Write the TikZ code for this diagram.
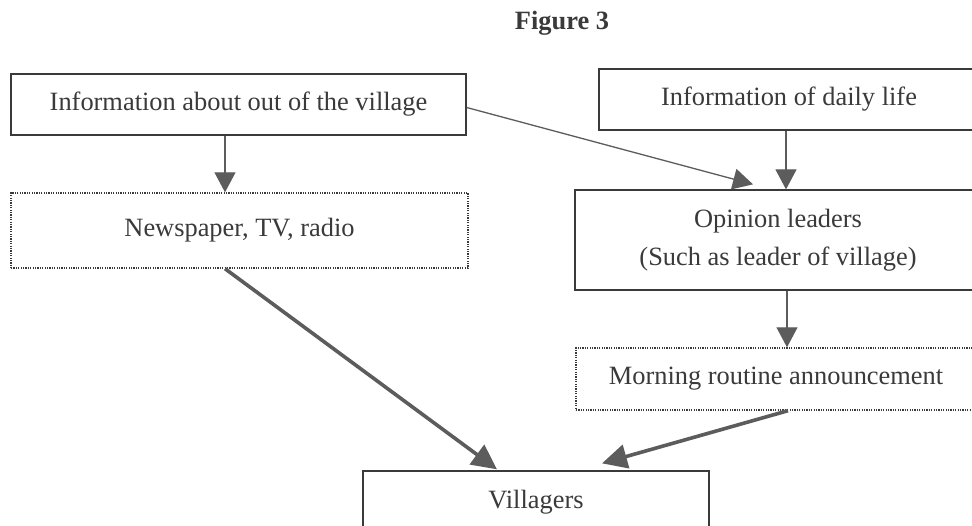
\documentclass[tikz,border=0pt]{standalone}
\usepackage{fontspec}
\setmainfont{Liberation Serif}
\usetikzlibrary{arrows.meta}
\definecolor{ink}{HTML}{3A3A3A}
\definecolor{arrowgrey}{HTML}{5C5C5C}
\begin{document}
\begin{tikzpicture}[x=1pt,y=-1pt,
  every node/.style={text=ink,font=\fontsize{26.4}{38}\selectfont},
  solidbox/.style={draw=ink,line width=1.3pt,inner sep=0pt,align=center},
  dotbox/.style={draw=ink,line width=1.4pt,dash pattern=on 1.2pt off 1.2pt,inner sep=0pt,align=center},
  thinarrow/.style={draw=ink,line width=1.3pt,-{Triangle[length=20pt,width=21pt]},arrowgrey},
  thickarrow/.style={draw=arrowgrey,line width=3.6pt,-{Triangle[length=25pt,width=24pt]}}]
\useasboundingbox (0,0) rectangle (972,526);
\clip (0,0) rectangle (972,526);
\fill[white] (0,0) rectangle (972,526);

% title
\node[font=\fontsize{26.4}{30}\selectfont\bfseries] (title) at (562,23) {Figure 3};

% boxes
\node[solidbox,minimum width=455pt,minimum height=61pt] (outside) at (238.5,104.5) {Information about out of the village};
\node[solidbox,minimum width=380pt,minimum height=61pt] (daily) at (789,99.5) {Information of daily life};
\node[dotbox,minimum width=457pt,minimum height=75pt] (media) at (239.5,230.5) {Newspaper, TV, radio};
\node[solidbox,minimum width=406pt,minimum height=100pt] (leaders) at (778,240) {Opinion leaders\\(Such as leader of village)};
\node[dotbox,minimum width=400pt,minimum height=62pt] (morning) at (776,379) {Morning routine announcement};
\node[solidbox,minimum width=346pt,minimum height=62pt] (villagers) at (536,502) {Villagers};

% connectors
\draw[thinarrow] ([xshift=-13.5pt]outside.south) -- ([xshift=-13.5pt]outside.south |- media.north);
\draw[thinarrow] ([yshift=-3pt]outside.east) -- ([xshift=-25pt,yshift=5pt]leaders.north);
\draw[thinarrow] ([xshift=-3pt]daily.south) -- ([xshift=-3pt]daily.south |- leaders.north);
\draw[thinarrow] ([xshift=9pt]leaders.south) -- ([xshift=9pt]leaders.south |- morning.north);
\draw[thickarrow] ([xshift=-14.5pt]media.south) -- ([xshift=-39pt,yshift=1pt]villagers.north);
\draw[thickarrow] ([xshift=12pt]morning.south) -- ([xshift=66pt,yshift=7pt]villagers.north);
\end{tikzpicture}
\end{document}
